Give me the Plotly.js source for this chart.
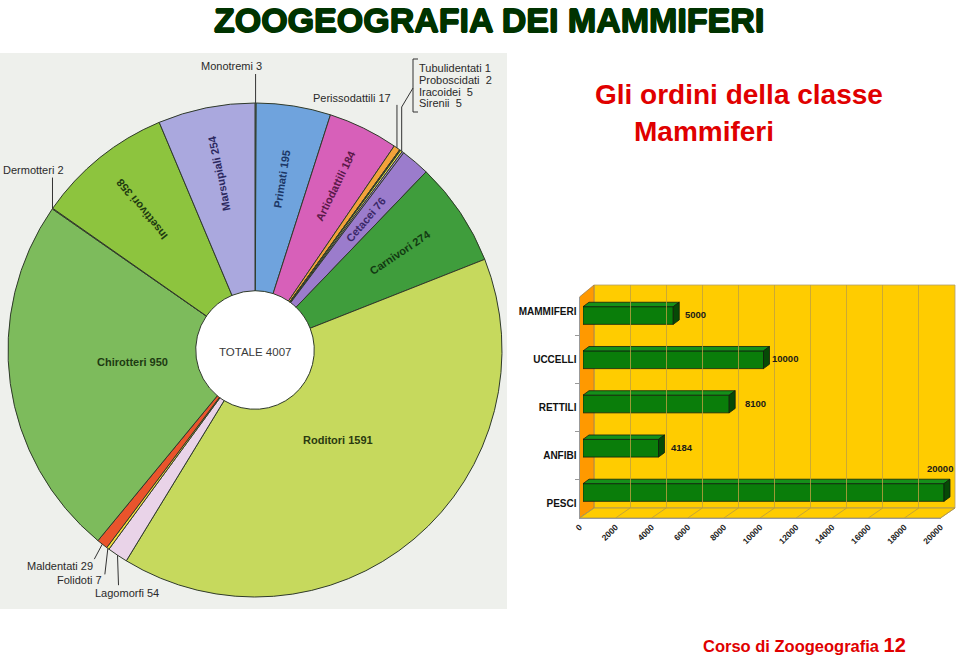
<!DOCTYPE html>
<html>
<head>
<meta charset="utf-8">
<script src="https://cdn.plot.ly/plotly-3.0.1.min.js"></script>
<style>html,body{margin:0;padding:0;background:#fff;}#chart{width:960px;height:658px;}</style>
</head>
<body>
<div id="chart"></div>
<script>
// ---------------- DATA ----------------
const orders = ['Monotremi','Primati','Artiodattili','Perissodattili','Tubulidentati','Proboscidati','Iracoidei','Sirenii','Cetacei','Carnivori','Roditori','Lagomorfi','Folidoti','Maldentati','Chirotteri','Dermotteri','Insettivori','Marsupiali'];
const species = [3,195,184,17,1,2,5,5,76,274,1591,54,7,29,950,2,358,254];
const totalLabel = 'TOTALE 4007';
const classes = ['MAMMIFERI','UCCELLI','RETTILI','ANFIBI','PESCI'];
const classSpecies = [5000,10000,8100,4184,20000];
const axisTicks = [0,2000,4000,6000,8000,10000,12000,14000,16000,18000,20000];

// ---------------- STYLE ----------------
const sliceColors = ['#a9c4e4','#6fa3dd','#d760b9','#f2a23a','#e8b030','#f5e23a','#f0ec50','#a585d2','#9b7ccc','#3f9d3c','#c6d95d','#e9d3e8','#f3de40','#e9542c','#7dbb5c','#dfe57a','#8dc43e','#aaa8de'];
const FONT = 'Liberation Sans, Arial, Helvetica, sans-serif';
const W = 960, H = 658;
const fx = p => p / W, fy = p => 1 - p / H;
const PIE = {cx: 255, cy: 350, r: 247, hole: 0.24};

const total = species.reduce((a, b) => a + b, 0);
const cum = []; let acc = 0; species.forEach(v => { cum.push(acc); acc += v; });
const angleAt = s => s / total * 360;
const midAngle = i => angleAt(cum[i] + species[i] / 2);
function piePt(theta, frac) {
  const t = theta * Math.PI / 180;
  return [PIE.cx + PIE.r * frac * Math.sin(t), PIE.cy - PIE.r * frac * Math.cos(t)];
}
const norm = a => { let b = a % 360; if (b > 180) b -= 360; return b; };

const annotations = [];
const shapes = [];
function ann(o) { annotations.push(Object.assign({xanchor:'center', yanchor:'middle', showarrow:false}, o)); }

// background of the pie picture
shapes.push({type:'rect', xref:'paper', yref:'paper', x0:fx(0), x1:fx(507), y0:fy(609), y1:fy(53), fillcolor:'#eef0ec', line:{width:0}, layer:'below'});
const rh = PIE.r * PIE.hole;
shapes.push({type:'circle', xref:'paper', yref:'paper', x0:fx(PIE.cx - rh), x1:fx(PIE.cx + rh), y0:fy(PIE.cy + rh), y1:fy(PIE.cy - rh), fillcolor:'#ffffff', line:{width:0}, layer:'below'});

// inner labels
const innerStyle = {
  'Marsupiali':  {frac:0.73, radial:true,  color:'#2c2860'},
  'Primati':     {frac:0.70, radial:true,  color:'#1c3766'},
  'Artiodattili':{frac:0.74, radial:true,  color:'#5a1848'},
  'Cetacei':     {frac:0.69, radial:true,  color:'#3a2868'},
  'Carnivori':   {frac:0.71, radial:true,  color:'#123a12'},
  'Insettivori': {frac:0.73, radial:true,  color:'#1e3a10'},
  'Chirotteri':  {frac:0.50, radial:false, color:'#1e3a12', dTheta:2.2},
  'Roditori':    {frac:0.495,radial:false, color:'#2a3a10', dTheta:-2.7}
};
orders.forEach((name, i) => {
  const st = innerStyle[name];
  if (!st) return;
  const th = midAngle(i) + (st.dTheta || 0);
  const p = piePt(th, st.frac);
  ann({xref:'paper', yref:'paper', x:fx(p[0]), y:fy(p[1]),
    text:'<b>' + name + ' ' + species[i] + '</b>', textangle: st.radial ? norm(th) - 90 : 0,
    font:{family:FONT, size:11, color:st.color}});
});
ann({xref:'paper', yref:'paper', x:fx(PIE.cx), y:fy(PIE.cy + 2), text:totalLabel,
  font:{family:FONT, size:11.5, color:'#3a3a3a'}});

// outer labels with leader lines
const groupIdx = [4,5,6,7];
const outer = [
  {idx:[0],  pts:h=>[h,[h[0],h[1]-29]], tx:h=>h[0]+8, ty:h=>h[1]-37, anchor:'right'},
  {idx:[15], pts:h=>[h,[h[0],h[1]-31]], tx:h=>h[0]+14, ty:h=>h[1]-39, anchor:'right'},
  {idx:[3],  pts:h=>[h,[h[0],h[1]-43]], tx:h=>h[0]-4, ty:h=>h[1]-50, anchor:'right'},
  {idx:groupIdx, pts:h=>[h,[h[0],107],[413,88]], group:true},
  {idx:[13], pts:h=>[h,[h[0]-8,h[1]+15]], tx:h=>h[0]-7, ty:h=>h[1]+22, anchor:'right'},
  {idx:[12], pts:h=>[h,[h[0]-3,h[1]+26]], tx:h=>h[0]-4, ty:h=>h[1]+32, anchor:'right'},
  {idx:[11], pts:h=>[h,[h[0]+1,h[1]+30]], tx:h=>h[0]-25, ty:h=>h[1]+38, anchor:'left'}
];
outer.forEach(o => {
  const a0 = cum[o.idx[0]], last = o.idx[o.idx.length - 1];
  const a1 = cum[last] + species[last];
  const h = piePt(angleAt((a0 + a1) / 2), 1.0);
  const pts = o.pts(h);
  shapes.push({type:'path', xref:'paper', yref:'paper', layer:'above',
    path: pts.map((p, k) => (k ? 'L' : 'M') + fx(p[0]) + ',' + fy(p[1])).join(' '),
    line:{color:'#333333', width:1}});
  if (o.group) {
    o.idx.forEach((i, j) => {
      ann({xref:'paper', yref:'paper', x:fx(417), y:fy(68 + j * 11.8), xanchor:'left',
        text: orders[i] + (j ? '\u00a0\u00a0' : ' ') + species[i], font:{family:FONT, size:11, color:'#2a2a2a'}});
    });
  } else {
    const i = o.idx[0];
    ann({xref:'paper', yref:'paper', x:fx(o.tx(h)), y:fy(o.ty(h)), xanchor:o.anchor,
      text: orders[i] + ' ' + species[i], font:{family:FONT, size:11, color:'#2a2a2a'}});
  }
});
// bracket
shapes.push({type:'path', xref:'paper', yref:'paper', layer:'above',
  path:'M'+fx(418)+','+fy(59)+' L'+fx(413)+','+fy(59)+' L'+fx(413)+','+fy(112)+' L'+fx(418)+','+fy(112),
  line:{color:'#333333', width:1}});

// ---------------- 3D BAR BOX ----------------
const k = 361 / 20000;              // px per unit
const barX0 = 583, barX1 = 957;
const barTop = 293.4, barBot = 514.6;
const xMax = (barX1 - barX0) / k;
const depthX = 6 / k, depthY = 0.1, halfW = 0.2;
const back = {x0:594, x1:955, y0:285, y1:508};
const front = {x0:579.5, y0:297, y1:518};

shapes.push({type:'rect', xref:'paper', yref:'paper', layer:'below', x0:fx(back.x0), x1:fx(back.x1), y0:fy(back.y1), y1:fy(back.y0),
  fillcolor:'#ffcc00', line:{color:'#b0a070', width:0.8}});
const poly = pts => pts.map((p, i) => (i ? 'L' : 'M') + fx(p[0]) + ',' + fy(p[1])).join(' ') + ' Z';
shapes.push({type:'path', xref:'paper', yref:'paper', layer:'below',
  path: poly([[front.x0, front.y0],[back.x0, back.y0],[back.x0, back.y1],[front.x0, front.y1]]),
  fillcolor:'#ff9900', line:{color:'#a08050', width:0.8}});
shapes.push({type:'path', xref:'paper', yref:'paper', layer:'below',
  path: poly([[front.x0, front.y1],[back.x0, back.y1],[back.x1, back.y1],[front.x0 + 20000 * k, front.y1]]),
  fillcolor:'#ffcc00', line:{color:'#a09060', width:0.8}});
axisTicks.forEach(t => {
  shapes.push({type:'line', xref:'paper', yref:'paper', layer:'below',
    x0:fx(back.x0 + t * k), y0:fy(back.y1), x1:fx(front.x0 + t * k), y1:fy(front.y1),
    line:{color:'#b89a40', width:0.8}});
});

const idx = classes.map((c, i) => i);
const topX = [], topY = [], sideX = [], sideY = [];
classSpecies.forEach((v, i) => {
  topX.push(0, v, v + depthX, depthX, 0, null);
  topY.push(i - halfW, i - halfW, i - halfW - depthY, i - halfW - depthY, i - halfW, null);
  sideX.push(v, v + depthX, v + depthX, v, v, null);
  sideY.push(i - halfW, i - halfW - depthY, i + halfW - depthY, i + halfW, i - halfW, null);
});

const valShift = [10, 6, 14, 10, 11];
classSpecies.forEach((v, i) => {
  const last = i === classSpecies.length - 1;
  ann({xref:'x', yref:'y', x:v, y:i, text:'<b>' + v + '</b>',
    xanchor: last ? 'right' : 'left', xshift: valShift[i], yshift: last ? 23.5 : 1,
    font:{family:FONT, size:9.5, color:'#1a1a1a'}});
});

// ---------------- TITLES ----------------
ann({xref:'paper', yref:'paper', x:fx(489), y:fy(20),
  text:'<b>ZOOGEOGRAFIA DEI MAMMIFERI</b>',
  font:{family:FONT, size:34, color:'#003300', shadow:'0.8px 0 0 #003300, -0.8px 0 0 #003300, 0 0.6px 0 #003300, 0 -0.6px 0 #003300'}});
ann({xref:'paper', yref:'paper', x:fx(593), y:fy(95), xanchor:'left',
  text:'<b>Gli ordini della classe</b>', font:{family:FONT, size:28, color:'#e00000'}});
ann({xref:'paper', yref:'paper', x:fx(632), y:fy(131), xanchor:'left',
  text:'<b>Mammiferi</b>', font:{family:FONT, size:28, color:'#e00000'}});
ann({xref:'paper', yref:'paper', x:fx(701), y:fy(645), xanchor:'left',
  text:'<b>Corso di Zoogeografia <span style="font-size:20px">12</span></b>', font:{family:FONT, size:16.5, color:'#e00000'}});

// ---------------- TRACES ----------------
const traces = [
  {type:'pie', labels:orders, values:species, sort:false, direction:'clockwise', rotation:0, hole:PIE.hole,
   textinfo:'none', hoverinfo:'label+value', showlegend:false,
   marker:{colors:sliceColors, line:{color:'#2f3a2a', width:1}},
   domain:{x:[fx(PIE.cx - PIE.r), fx(PIE.cx + PIE.r)], y:[fy(PIE.cy + PIE.r), fy(PIE.cy - PIE.r)]}},
  {type:'bar', orientation:'h', x:classSpecies, y:idx, width:2 * halfW, xaxis:'x', yaxis:'y',
   marker:{color:'#0a7d0a', line:{color:'#102010', width:0.8}}, hoverinfo:'x', showlegend:false},
  {type:'scatter', mode:'lines', x:topX, y:topY, fill:'toself', fillcolor:'#15901a', xaxis:'x', yaxis:'y',
   line:{color:'#102010', width:0.8}, hoverinfo:'skip', showlegend:false},
  {type:'scatter', mode:'lines', x:sideX, y:sideY, fill:'toself', fillcolor:'#064a06', xaxis:'x', yaxis:'y',
   line:{color:'#102010', width:0.8}, hoverinfo:'skip', showlegend:false},
  {type:'scatter', mode:'markers', x:[0], y:[0], xaxis:'x2', yaxis:'y3', marker:{opacity:0, size:1}, hoverinfo:'skip', showlegend:false},
  {type:'scatter', mode:'markers', x:classes.map(() => 0), y:classes, xaxis:'x3', yaxis:'y2', marker:{opacity:0, size:1}, hoverinfo:'skip', showlegend:false}
];

const layout = {
  width:W, height:H, margin:{l:0, r:0, t:0, b:0}, showlegend:false,
  paper_bgcolor:'#ffffff', plot_bgcolor:'rgba(0,0,0,0)',
  font:{family:FONT},
  xaxis:{domain:[fx(barX0), fx(barX1)], range:[0, xMax], visible:false, fixedrange:true},
  yaxis:{domain:[fy(barBot), fy(barTop)], range:[4.5, -0.5], visible:false, fixedrange:true},
  xaxis2:{domain:[fx(back.x0), fx(back.x1)], range:[0, 20000], anchor:'y3', tickvals:axisTicks, showgrid:true,
    gridcolor:'#bfa040', gridwidth:0.8, showticklabels:false, ticks:'', zeroline:false, showline:false},
  yaxis3:{domain:[fy(back.y1), fy(back.y0)], range:[0, 1], anchor:'x2', visible:false},
  xaxis3:{domain:[fx(front.x0), fx(front.x0 + 20000 * k)], range:[0, 20000], anchor:'y2', tickvals:axisTicks,
    ticktext:axisTicks.map(String), tickangle:-45, showgrid:false, zeroline:false, showline:true, linecolor:'#999999',
    linewidth:1, ticks:'', tickfont:{family:FONT, size:8.5, color:'#222222', weight:'bold'}},
  yaxis2:{domain:[fy(front.y1), fy(front.y0)], anchor:'x3', type:'category', categoryorder:'array', categoryarray:classes,
    autorange:'reversed', showgrid:false, zeroline:false, showline:true, linecolor:'#999999', linewidth:1,
    ticks:'outside', tickson:'boundaries', ticklen:4, tickcolor:'#999999',
    tickfont:{family:FONT, size:10, color:'#111111', weight:'bold'}},
  shapes:shapes, annotations:annotations
};

Plotly.newPlot('chart', traces, layout, {displayModeBar:false, staticPlot:true});
</script>
</body>
</html>
